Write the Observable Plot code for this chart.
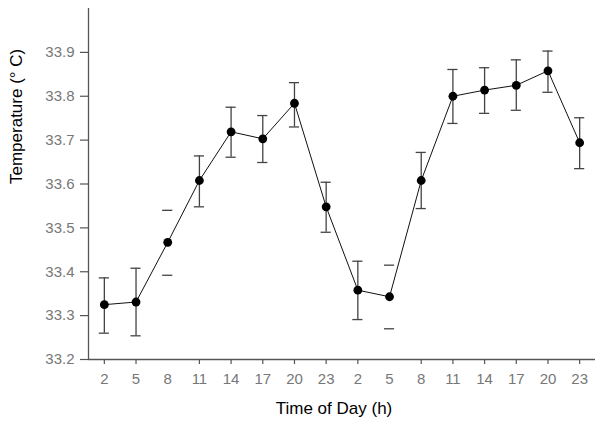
<!DOCTYPE html>
<html>
<head>
<meta charset="utf-8">
<script src="https://cdn.jsdelivr.net/npm/d3@7"></script>
<script src="https://cdn.jsdelivr.net/npm/@observablehq/plot@0.6"></script>
<style>
  html, body { margin: 0; padding: 0; background: #fff; }
</style>
</head>
<body>
<div id="chart"></div>
<script>
// Time of day (h) labels for 16 consecutive measurements
const hours = [2, 5, 8, 11, 14, 17, 20, 23, 2, 5, 8, 11, 14, 17, 20, 23];
// Mean temperature (°C)
const temp  = [33.325, 33.331, 33.467, 33.608, 33.719, 33.703, 33.784, 33.548,
               33.358, 33.343, 33.608, 33.800, 33.814, 33.825, 33.858, 33.694];
// Error bar upper / lower limits
const upper = [33.386, 33.408, 33.540, 33.664, 33.775, 33.756, 33.831, 33.604,
               33.424, 33.415, 33.672, 33.861, 33.865, 33.883, 33.903, 33.751];
const lower = [33.260, 33.254, 33.392, 33.548, 33.661, 33.649, 33.730, 33.490,
               33.291, 33.270, 33.544, 33.738, 33.761, 33.768, 33.809, 33.635];
// In the original, two error-bar stems and their axis ticks are not drawn
const stemShown = [1, 1, 0, 1, 1, 1, 1, 1, 1, 0, 1, 1, 1, 1, 1, 1];
const yTicks = [33.2, 33.3, 33.4, 33.5, 33.6, 33.7, 33.8, 33.9];
const xTitle = "Time of Day (h)";
const yTitle = "Temperature (° C)";

const data = hours.map((h, i) => ({i, h, t: temp[i], hi: upper[i], lo: lower[i], stem: stemShown[i]}));
const capHalf = 0.16;

const chart = Plot.plot({
  width: 601,
  height: 431,
  marginLeft: 88,
  marginRight: 6,
  marginTop: 8,
  marginBottom: 72,
  style: {fontFamily: "Liberation Sans, Arial, sans-serif", background: "#fff", color: "#000"},
  x: {domain: [-0.5, 15.5]},
  y: {domain: [33.2, 34.0]},
  marks: [
    // axis lines
    Plot.ruleX([-0.5], {y1: 33.2, y2: 34.0, stroke: "#555", strokeWidth: 1.3}),
    Plot.ruleY([33.2], {x1: -0.5, x2: 15.5, stroke: "#555", strokeWidth: 1.3}),
    // y axis ticks and labels
    Plot.axisY({ticks: yTicks, tickSize: 8, text: null, stroke: "#555", strokeWidth: 1.2, label: null}),
    Plot.axisY({ticks: yTicks, tickSize: 0, tickPadding: 14, tickFormat: d3.format(".1f"), fill: "#777", fontSize: 15, label: null}),
    // x axis ticks (only where drawn) and labels
    Plot.axisX({ticks: data.filter(d => d.stem).map(d => d.i), tickSize: 5, text: null, stroke: "#555", strokeWidth: 1.2, label: null}),
    Plot.axisX({ticks: data.map(d => d.i), tickSize: 0, tickPadding: 14, tickFormat: i => String(hours[i]), fill: "#777", fontSize: 15, label: null}),
    // axis titles
    Plot.text([xTitle], {frameAnchor: "bottom", dy: 54, dx: -8, fontSize: 17, fill: "#000"}),
    Plot.text([yTitle], {frameAnchor: "left", dx: -72, rotate: -90, fontSize: 17, fill: "#000"}),
    // error bars
    Plot.ruleX(data.filter(d => d.stem), {x: "i", y1: "lo", y2: "hi", stroke: "#444", strokeWidth: 1.3}),
    Plot.ruleY(data, {y: "hi", x1: d => d.i - capHalf, x2: d => d.i + capHalf, stroke: "#444", strokeWidth: 1.3}),
    Plot.ruleY(data, {y: "lo", x1: d => d.i - capHalf, x2: d => d.i + capHalf, stroke: "#444", strokeWidth: 1.3}),
    // mean line and points
    Plot.line(data, {x: "i", y: "t", stroke: "#111", strokeWidth: 1}),
    Plot.dot(data, {x: "i", y: "t", r: 4.4, fill: "#000", stroke: "none"})
  ]
});
document.getElementById("chart").appendChild(chart);
</script>
</body>
</html>
